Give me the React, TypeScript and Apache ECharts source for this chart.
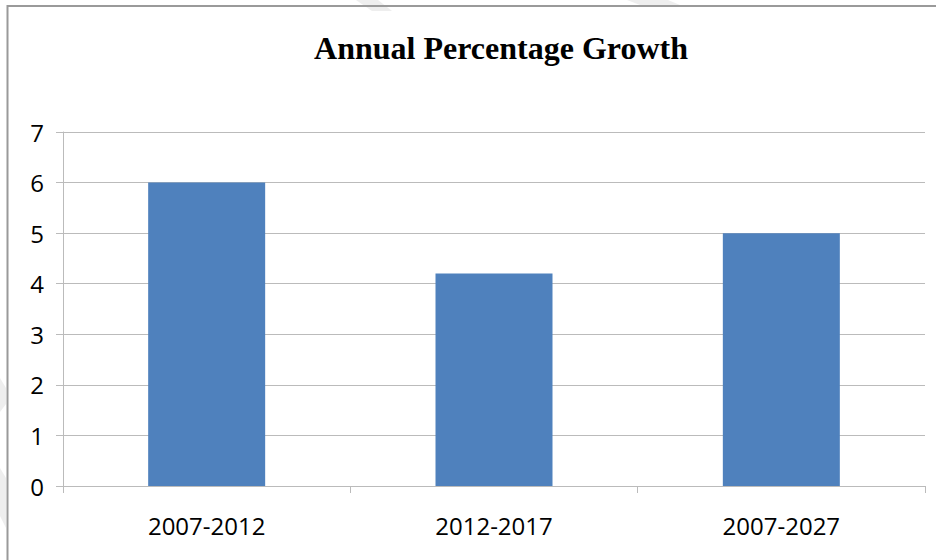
import React, { useEffect, useRef } from "react";
import * as echarts from "echarts";

const titleText = "Annual Percentage Growth";
const categories = ["2007-2012", "2012-2017", "2007-2027"];
const growthValues = [6, 4.2, 5];
const yTicks = { min: 0, max: 7, interval: 1 };

export default function App() {
  const ref = useRef<HTMLDivElement>(null);
  useEffect(() => {
    if (!ref.current) return;
    const chart = echarts.init(ref.current, null, { renderer: "svg" });
    const axisGray = "#bbbbbb";
    const labelFont = "'Open Sans', 'Noto Sans', sans-serif";
    chart.setOption({
      animation: false,
      backgroundColor: "#ffffff",
      title: {
        text: titleText,
        left: 496,
        top: 27,
        textAlign: "center",
        textStyle: {
          fontFamily: "'Liberation Serif', 'Times New Roman', serif",
          fontWeight: "bold",
          fontSize: 32,
          color: "#000000",
        },
      },
      graphic: [
        { type: "polygon", silent: true, z: -10, shape: { points: [[356, 0], [378, 0], [392, 11], [372, 11]] }, style: { fill: "#eeeeee" } },
        { type: "polygon", silent: true, z: -10, shape: { points: [[627, 0], [668, 0], [680, 5], [640, 5]] }, style: { fill: "#eeeeee" } },
        { type: "polygon", silent: true, z: -10, shape: { points: [[0, 378], [6, 388], [6, 404], [0, 412]] }, style: { fill: "#eeeeee" } },
        { type: "polygon", silent: true, z: -10, shape: { points: [[0, 468], [6, 478], [6, 528], [0, 516]] }, style: { fill: "#eeeeee" } },
        {
          type: "rect",
          silent: true,
          shape: { x: 7.5, y: 6, width: 1200, height: 1200 },
          style: { fill: "none", stroke: "#9a9a9a", lineWidth: 2 },
        },
      ],
      grid: { left: 63, right: 11, top: 132, bottom: 74, containLabel: false },
      xAxis: {
        type: "category",
        data: categories,
        boundaryGap: true,
        axisLine: { show: true, lineStyle: { color: axisGray, width: 1 } },
        axisTick: { show: true, length: 7, lineStyle: { color: axisGray } },
        axisLabel: {
          margin: 27,
          fontFamily: labelFont,
          fontSize: 24,
          color: "#000000",
        },
        splitLine: { show: false },
      },
      yAxis: {
        type: "value",
        min: yTicks.min,
        max: yTicks.max,
        interval: yTicks.interval,
        axisLine: { show: true, lineStyle: { color: axisGray, width: 1 } },
        axisTick: { show: true, length: 7, lineStyle: { color: axisGray } },
        axisLabel: {
          margin: 19,
          fontFamily: labelFont,
          fontSize: 24,
          color: "#000000",
        },
        splitLine: { show: true, lineStyle: { color: axisGray, width: 1 } },
      },
      series: [
        {
          type: "bar",
          data: growthValues,
          barWidth: 117,
          itemStyle: { color: "#4f81bd" },
        },
      ],
    });
    return () => chart.dispose();
  }, []);
  return (
    <div
      ref={ref}
      style={{ position: "fixed", left: 0, top: 0, width: 936, height: 560, background: "#fff" }}
    />
  );
}
